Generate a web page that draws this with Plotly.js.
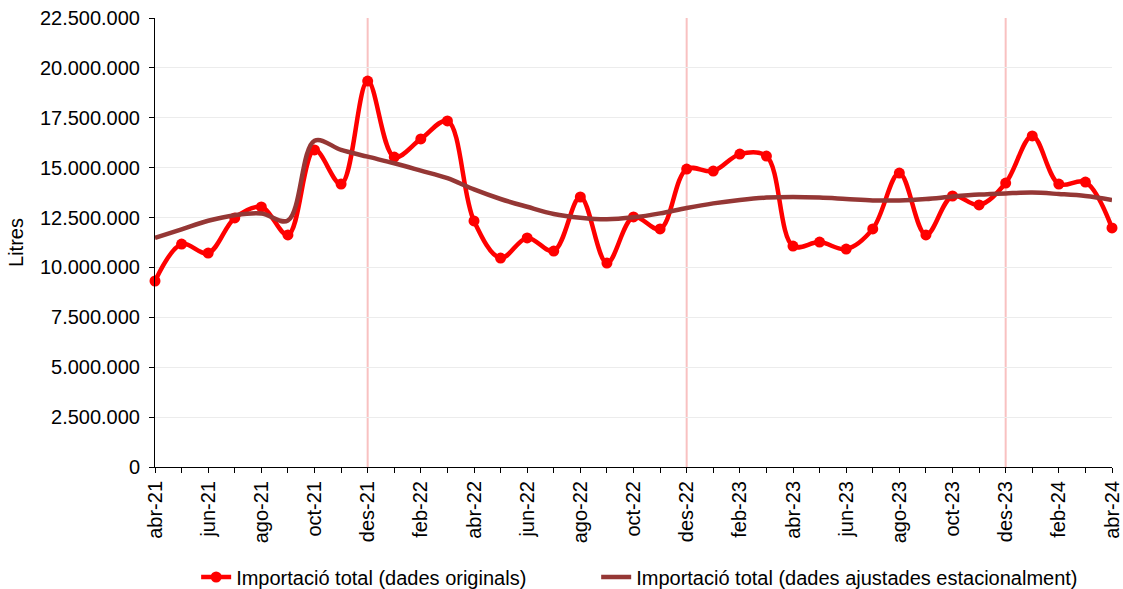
<!DOCTYPE html>
<html>
<head>
<meta charset="utf-8">
<script src="https://cdn.plot.ly/plotly-3.0.1.min.js"></script>
<style>html,body{margin:0;padding:0;background:#fff;}#chart{width:1123px;height:589px;}</style>
</head>
<body>
<div id="chart"></div>
<script>
const months = ["abr-21","mai-21","jun-21","jul-21","ago-21","set-21","oct-21","nov-21","des-21",
  "gen-22","feb-22","mar-22","abr-22","mai-22","jun-22","jul-22","ago-22","set-22","oct-22","nov-22","des-22",
  "gen-23","feb-23","mar-23","abr-23","mai-23","jun-23","jul-23","ago-23","set-23","oct-23","nov-23","des-23",
  "gen-24","feb-24","mar-24","abr-24"];
const originals = [9320000,11170000,10720000,12480000,13030000,11630000,15890000,14180000,19340000,
  15530000,16440000,17340000,12330000,10470000,11480000,10820000,13530000,10220000,12530000,11930000,14930000,
  14830000,15680000,15580000,11070000,11270000,10920000,11930000,14730000,11630000,13580000,13130000,14230000,
  16590000,14180000,14280000,11980000];
const ajustades = [11480000,11910000,12340000,12620000,12700000,12350000,16350000,15890000,15550000,
  15220000,14850000,14470000,13910000,13430000,13040000,12680000,12490000,12410000,12510000,12710000,12980000,
  13210000,13380000,13500000,13530000,13500000,13430000,13360000,13360000,13430000,13550000,13650000,13710000,
  13750000,13680000,13580000,13380000];
const decembers = ["des-21","des-22","des-23"];
const nameOrig = "Importació total (dades originals)";
const nameAdj = "Importació total (dades ajustades estacionalment)";

const tickText = months.map((m, i) => (i % 2 === 0 ? m : ""));

const traces = [
  {x: months, y: originals, name: nameOrig, type: "scatter", mode: "lines+markers",
   line: {color: "#ff0000", width: 4.5, shape: "spline", smoothing: 1},
   marker: {color: "#ff0000", size: 11}, cliponaxis: false, legend: "legend"},
  {x: months, y: ajustades, name: nameAdj, type: "scatter", mode: "lines",
   line: {color: "#953735", width: 4.5, shape: "spline", smoothing: 1}, cliponaxis: false, legend: "legend2"}
];

const shapes = decembers.map(d => ({type: "line", xref: "x", yref: "paper", x0: d, x1: d, y0: 0, y1: 1,
  line: {color: "rgba(245,160,160,0.65)", width: 2}, layer: "below"}));

const legFont = {size: 20, color: "#000"};
const layout = {
  width: 1123, height: 589,
  margin: {l: 155, r: 11, t: 18, b: 122, autoexpand: false},
  paper_bgcolor: "#fff", plot_bgcolor: "#fff",
  separators: ",.",
  font: {family: "Liberation Sans, Arial, sans-serif", size: 20, color: "#000"},
  showlegend: true,
  legend: {orientation: "h", x: 0.043, xanchor: "left", y: -0.245, yanchor: "middle", font: legFont},
  legend2: {orientation: "h", x: 0.461, xanchor: "left", y: -0.245, yanchor: "middle", font: legFont},
  shapes: shapes,
  xaxis: {type: "category", categoryorder: "array", categoryarray: months,
    range: [0, 36], tickmode: "array", tickvals: months, ticktext: tickText,
    tickangle: -90, ticks: "outside", ticklen: 5, tickcolor: "#000",
    showline: true, linecolor: "#000", linewidth: 1, showgrid: false, zeroline: false,
    tickfont: {size: 20}, automargin: false},
  yaxis: {range: [0, 22500000], tickmode: "linear", tick0: 0, dtick: 2500000,
    tickformat: ",d", ticks: "outside", ticklen: 5, tickcolor: "#000",
    showline: true, linecolor: "#000", linewidth: 1, ticklabelstandoff: 5,
    showgrid: true, gridcolor: "#ececec", gridwidth: 1, zeroline: false, automargin: false,
    title: {text: "Litres", font: {size: 20}, standoff: 10}, tickfont: {size: 20}}
};

Plotly.newPlot("chart", traces, layout, {displayModeBar: false, staticPlot: true});
</script>
</body>
</html>
